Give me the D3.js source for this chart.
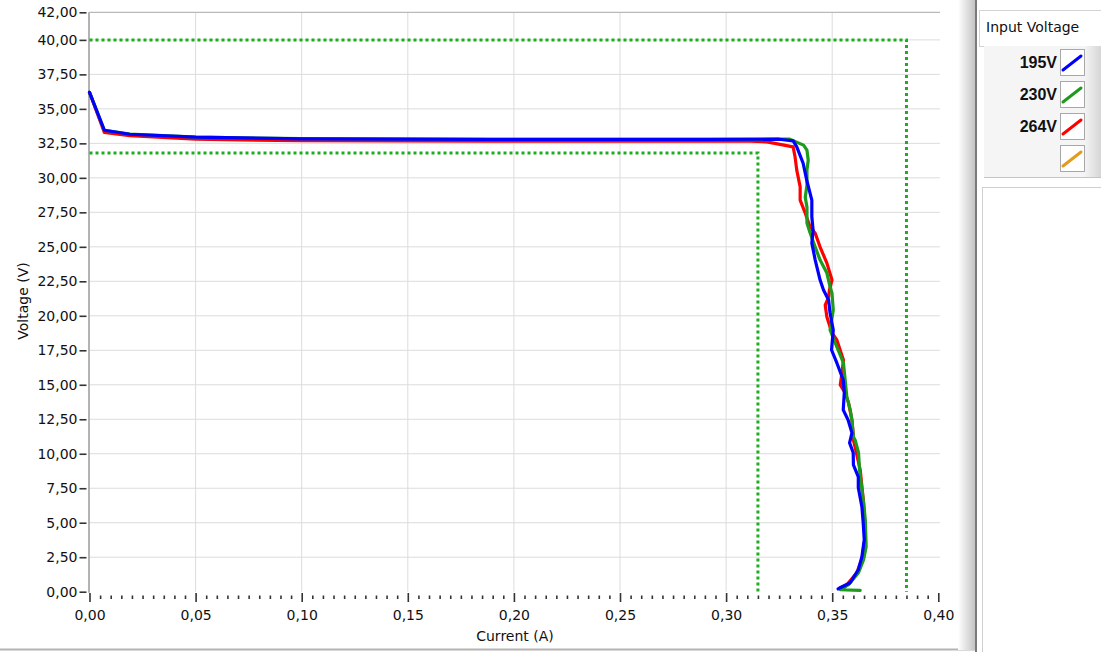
<!DOCTYPE html>
<html>
<head>
<meta charset="utf-8">
<script src="https://cdn.jsdelivr.net/npm/d3@7"></script>
<style>
  body { margin: 0; background: #fff; }
  text { font-family: "DejaVu Sans", Verdana, sans-serif; fill: #111; }
</style>
</head>
<body>
<div class="chart"></div>
<script>
// tick values
var xTicks = [0, 0.05, 0.10, 0.15, 0.20, 0.25, 0.30, 0.35, 0.40];
var yTicks = [0, 2.5, 5, 7.5, 10, 12.5, 15, 17.5, 20, 22.5, 25, 27.5, 30, 32.5, 35, 37.5, 40, 42];

// limit boxes [current, voltage]
var limitHigh = [[0, 40], [0.385, 40], [0.385, 0]];
var limitLow = [[0, 31.8], [0.315, 31.8], [0.315, 0]];

// measured curves [current (A), voltage (V)]
var curve195 = [[0,36.2],[0.007,33.45],[0.019,33.16],[0.05,32.95],[0.1,32.82],[0.19,32.78],[0.29,32.78],[0.325,32.8],
  [0.3316,32.68],[0.3333,32.25],[0.3363,31.06],[0.338,29.83],[0.3404,28.39],[0.3404,27.18],[0.341,26.21],[0.3404,25.27],
  [0.342,24.04],[0.3443,22.59],[0.3459,21.87],[0.3483,21.14],[0.349,20.2],[0.3505,18.97],[0.3497,17.52],[0.3522,16.58],
  [0.3552,15.35],[0.3557,14.41],[0.3552,13.18],[0.3575,12.45],[0.3593,11.51],[0.3582,10.79],[0.3599,10.07],[0.36,9.2],
  [0.3623,8.33],[0.3623,7.53],[0.364,6.15],[0.3646,5.0],[0.3651,3.77],[0.364,2.53],[0.3623,1.59],[0.3585,0.65],
  [0.3538,0.29],[0.3528,0.2]];
var curve230 = [[0,36.2],[0.007,33.45],[0.019,33.18],[0.05,32.95],[0.1,32.84],[0.19,32.8],[0.29,32.8],[0.33,32.8],
  [0.3365,32.37],[0.3381,32.01],[0.3387,31.28],[0.3381,30.56],[0.3381,29.47],[0.3373,28.6],[0.3381,27.88],[0.3381,26.72],
  [0.3396,26.0],[0.342,24.98],[0.3443,24.04],[0.3475,23.1],[0.349,22.09],[0.3499,21.65],[0.3505,20.42],[0.349,18.97],
  [0.3522,17.74],[0.3553,16.58],[0.3561,15.35],[0.3569,14.12],[0.3585,13.18],[0.3593,12.45],[0.36,11.22],[0.3608,11.0],
  [0.3624,10.07],[0.3629,8.83],[0.3648,6.44],[0.3656,5.21],[0.366,3.26],[0.3648,2.32],[0.3624,1.38],[0.3577,0.51],
  [0.3538,0.14],[0.3632,0.1]];
var curve264 = [[0,36.2],[0.007,33.3],[0.019,33.05],[0.05,32.8],[0.1,32.69],[0.19,32.66],[0.308,32.68],[0.3192,32.61],
  [0.3316,32.24],[0.3325,31.52],[0.3333,30.56],[0.3349,29.35],[0.3349,28.39],[0.3373,27.44],[0.3396,26.43],[0.342,25.99],
  [0.3443,24.98],[0.3475,23.82],[0.3499,22.59],[0.3487,21.87],[0.3483,21.36],[0.3467,20.78],[0.3475,19.91],[0.3499,18.75],
  [0.3522,18.25],[0.3553,16.8],[0.3546,15.86],[0.3538,14.99],[0.3561,14.41],[0.3577,13.69],[0.3593,12.45],[0.36,11.22],
  [0.36,11.0],[0.3632,8.83],[0.3648,6.44],[0.3656,3.98],[0.364,2.32],[0.3616,1.38],[0.3569,0.51],[0.3538,0.29]];

var legendNames = ['195V', '230V', '264V', ''];
var legendColors = ['#0000ff', '#1e9a1e', '#ff0000', '#e39b1c'];

var svg = d3.select('.chart')
    .append('svg')
    .attr('width', 1101)
    .attr('height', 652);

var defs = svg.append('defs');
var g1 = defs.append('linearGradient').attr('id', 'edge');
g1.append('stop').attr('offset', '0').attr('stop-color', '#ffffff');
g1.append('stop').attr('offset', '1').attr('stop-color', '#c4c4c4');
var g2 = defs.append('linearGradient').attr('id', 'itemEdge');
g2.append('stop').attr('offset', '0').attr('stop-color', '#f5f5f5');
g2.append('stop').attr('offset', '1').attr('stop-color', '#d6d6d6');

var x = d3.scaleLinear().domain([0, 0.4]).range([89.5, 938.3]);
var y = d3.scaleLinear().domain([0, 42]).range([591.7, 12.3]);
var fmt = function(d) { return d3.format('.2f')(d).replace('.', ','); };

// grid
svg.append('g').selectAll('line')
    .data(xTicks.filter(function(d) { return d > 0 && d < 0.4; }))
    .enter().append('line')
    .attr('x1', function(d) { return x(d); })
    .attr('x2', function(d) { return x(d); })
    .attr('y1', y(42)).attr('y2', y(0))
    .attr('stroke', '#dcdcdc');
svg.append('g').selectAll('line')
    .data(yTicks.filter(function(d) { return d > 0 && d < 42; }))
    .enter().append('line')
    .attr('x1', x(0)).attr('x2', 940)
    .attr('y1', function(d) { return y(d); })
    .attr('y2', function(d) { return y(d); })
    .attr('stroke', '#dcdcdc');

// frame
svg.append('line').attr('x1', x(0)).attr('x2', 940).attr('y1', y(42)).attr('y2', y(42)).attr('stroke', '#a8a8a8');
svg.append('line').attr('x1', x(0) - 0.5).attr('x2', x(0) - 0.5).attr('y1', y(42)).attr('y2', y(0) + 1).attr('stroke', '#9a9a9a').attr('stroke-width', 1.5);

// axes
var xMajor = svg.append('g')
    .attr('transform', 'translate(0,593)')
    .call(d3.axisBottom(x).tickValues(xTicks).tickFormat(fmt).tickSize(9).tickPadding(8));
var minor = d3.range(0, 81).map(function(i) { return i * 0.005; }).filter(function(d, i) { return i % 10 !== 0; });
var xMinor = svg.append('g')
    .attr('transform', 'translate(0,595.5)')
    .call(d3.axisBottom(x).tickValues(minor).tickFormat('').tickSize(3.5));
var yAxis = svg.append('g')
    .attr('transform', 'translate(86.5,0)')
    .call(d3.axisLeft(y).tickValues(yTicks).tickFormat(fmt).tickSize(7).tickPadding(2));
[xMajor, xMinor, yAxis].forEach(function(a) {
  a.select('.domain').remove();
  a.selectAll('line').attr('stroke', '#333').attr('stroke-width', 1.6);
  a.selectAll('text').attr('font-size', 14).attr('fill', '#111').style('font-family', '"DejaVu Sans", Verdana, sans-serif');
});

svg.append('text').attr('x', 515).attr('y', 641).attr('text-anchor', 'middle').attr('font-size', 14).text('Current (A)');
svg.append('text').attr('transform', 'translate(28,301) rotate(-90)').attr('text-anchor', 'middle').attr('font-size', 14).text('Voltage (V)');

// limits
var line = d3.line().x(function(d) { return x(d[0]); }).y(function(d) { return y(d[1]); });
[limitHigh, limitLow].forEach(function(l) {
  svg.append('path').attr('d', line(l)).attr('fill', 'none')
      .attr('stroke', '#1fab1f').attr('stroke-width', 3).attr('stroke-dasharray', '3,3');
});

// curves
[[curve264, legendColors[2]], [curve230, legendColors[1]], [curve195, legendColors[0]]].forEach(function(c) {
  svg.append('path').attr('d', line(c[0])).attr('fill', 'none')
      .attr('stroke', c[1]).attr('stroke-width', 3.2)
      .attr('stroke-linejoin', 'round').attr('stroke-linecap', 'round');
});

// window chrome
svg.append('line').attr('x1', 0).attr('x2', 976).attr('y1', 649.5).attr('y2', 649.5).attr('stroke', '#b4b4b4').attr('stroke-width', 2);
svg.append('rect').attr('x', 958).attr('y', 0).attr('width', 17).attr('height', 650).attr('fill', 'url(#edge)');
svg.append('line').attr('x1', 976).attr('x2', 976).attr('y1', 0).attr('y2', 652).attr('stroke', '#7a7a7a').attr('stroke-width', 2);

// legend
svg.append('rect').attr('x', 979.5).attr('y', 10.5).attr('width', 125).attr('height', 36).attr('fill', '#fff').attr('stroke', '#d4d4d4');
svg.append('text').attr('x', 986).attr('y', 32).attr('font-size', 14).text('Input Voltage');
svg.append('rect').attr('x', 984).attr('y', 46).attr('width', 117).attr('height', 131).attr('fill', '#f5f5f5');
svg.append('rect').attr('x', 1084).attr('y', 46).attr('width', 17).attr('height', 131).attr('fill', 'url(#itemEdge)');
svg.append('line').attr('x1', 984).attr('x2', 1101).attr('y1', 177.5).attr('y2', 177.5).attr('stroke', '#c4c4c4');
svg.append('rect').attr('x', 982.5).attr('y', 187.5).attr('width', 120).attr('height', 470).attr('fill', '#fff').attr('stroke', '#cfcfcf');

var item = svg.append('g').selectAll('g')
    .data(legendNames)
    .enter().append('g')
    .attr('transform', function(d, i) { return 'translate(0,' + (62 + i * 32) + ')'; });
item.append('rect').attr('x', 1060.5).attr('y', -12.5).attr('width', 24).attr('height', 26)
    .attr('fill', '#fff').attr('stroke', '#a8a8a8');
item.append('line').attr('x1', 1063).attr('y1', 8).attr('x2', 1081).attr('y2', -6)
    .attr('stroke', function(d, i) { return legendColors[i]; }).attr('stroke-width', 3).attr('stroke-linecap', 'round');
item.append('text').attr('x', 1057).attr('y', 6).attr('text-anchor', 'end')
    .attr('font-size', 16).attr('font-weight', 'bold')
    .style('font-family', '"Liberation Sans", Arial, sans-serif')
    .text(function(d) { return d; });
</script>
</body>
</html>
